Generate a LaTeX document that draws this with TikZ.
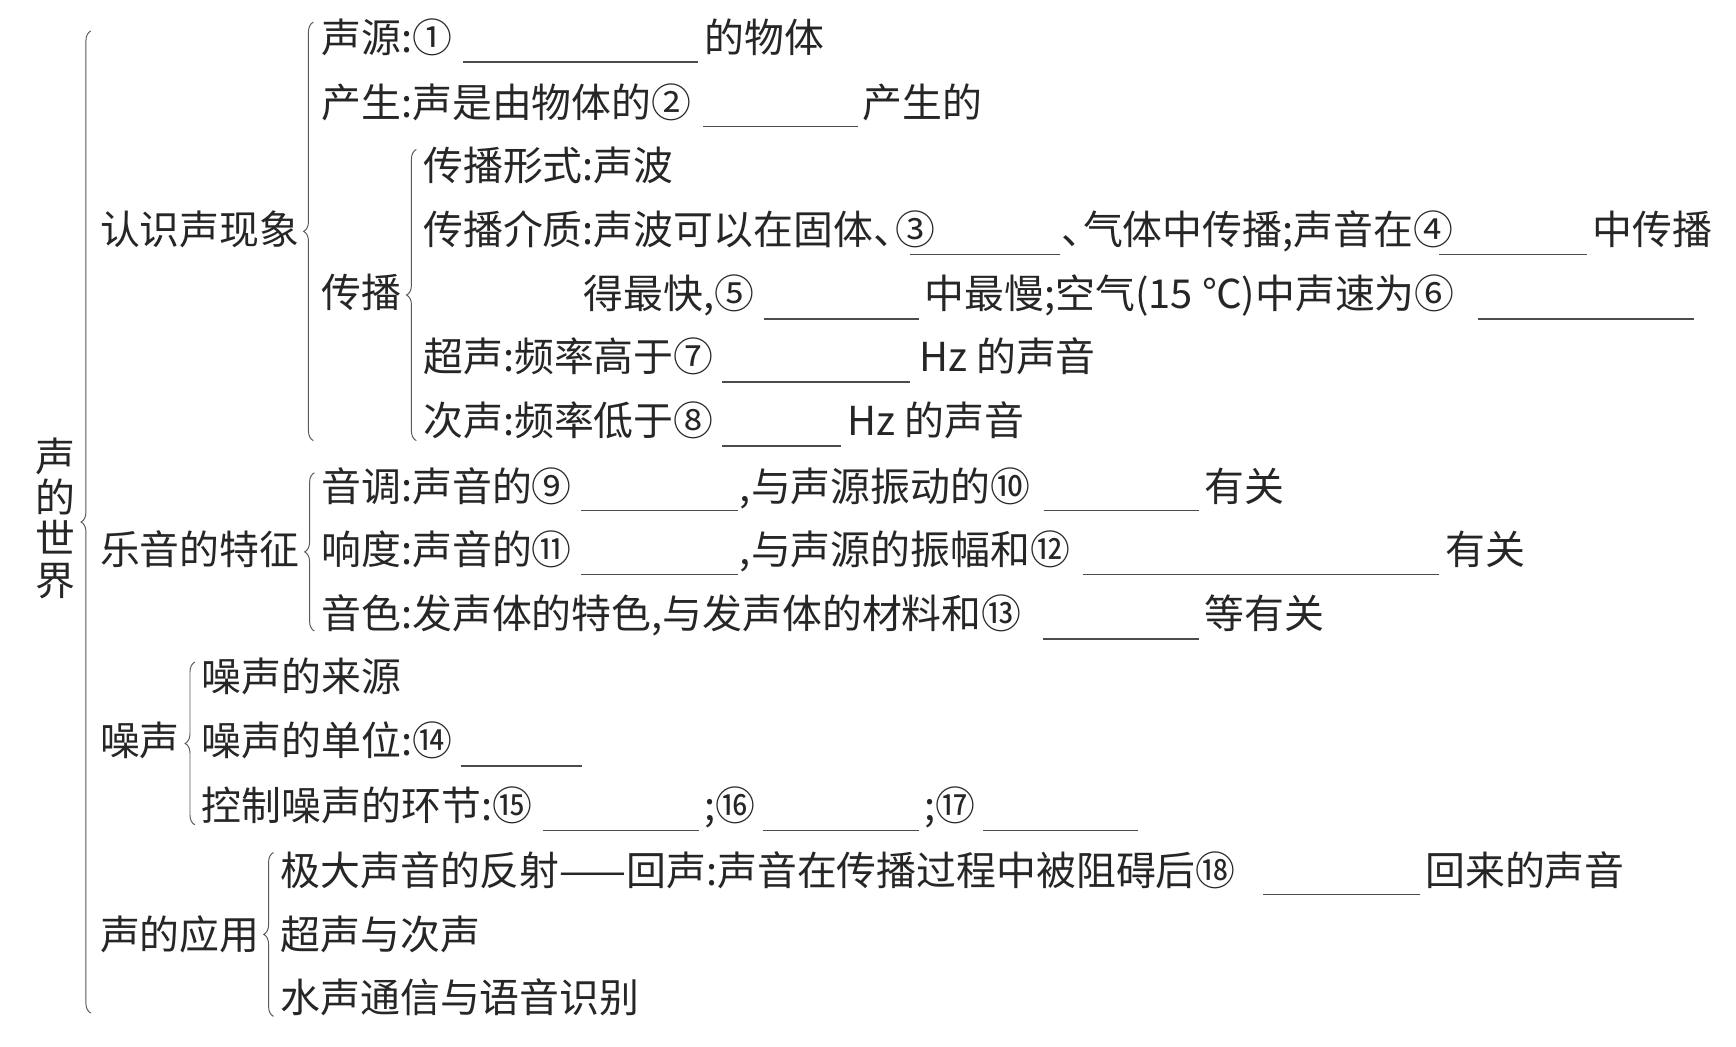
\documentclass[tikz,border=0pt]{standalone}
\usepackage{fontspec}
\newfontfamily\cjk{Noto Sans CJK SC}
\usetikzlibrary{decorations.pathreplacing}
\newcommand{\dun}{、\hspace{-0.45em}}

\begin{document}
\begin{tikzpicture}[x=0.02cm, y=-0.02cm,
	txt/.style={anchor=west, inner sep=0pt, text=black!85, font=\cjk\fontsize{20.5}{24}\selectfont, text height=17.5pt, text depth=3pt},
	vert/.style={inner sep=0pt, align=center, text=black!85, font=\cjk\fontsize{20.5}{21.2}\selectfont},
	blank/.style={draw=black!70, line width=0.7pt},
	grp/.style={draw=black!65, line width=0.5pt, decorate, decoration={brace, amplitude=5pt}}]
		\useasboundingbox[fill=white] (0,0) rectangle (1568,945);

		\node[vert] at (50,468) (world) {声\\的\\世\\界};
		\draw[grp] (82,915) -- (82,28);

		\node[txt] at (90,208) (know) {认识声现象};
		\draw[grp] (283,398) -- (283,20);
		\node[txt] at (290,35) (src) {声源:①};
		\draw[blank] (418,56) -- (630,56);
		\node[txt] at (636,35) (src2) {的物体};
		\node[txt] at (290,93) (gen) {产生:声是由物体的②};
		\draw[blank] (635,114) -- (775,114);
		\node[txt] at (779,93) (gen2) {产生的};

		\node[txt] at (290,265) (spread) {传播};
		\draw[grp] (376,398) -- (376,135);
		\node[txt] at (382,150) (form) {传播形式:声波};
		\node[txt] at (382,208) (med) {传播介质:声波可以在固体\dun ③};
		\draw[blank] (822,230) -- (957,230);
		\node[txt] at (958,208) (med2) {\dun 气体中传播;声音在④};
		\draw[blank] (1300,230) -- (1433,230);
		\node[txt] at (1438,208) (med3) {中传播};
		\node[txt] at (527,266) (fast) {得最快,⑤};
		\draw[blank] (690,288) -- (830,288);
		\node[txt] at (835,266) (slow) {中最慢;空气(15 ℃)中声速为⑥};
		\draw[blank] (1335,288) -- (1530,288);
		\node[txt] at (382,323) (ultra) {超声:频率高于⑦};
		\draw[blank] (652,345) -- (822,345);
		\node[txt] at (830,323) (ultra2) {Hz 的声音};
		\node[txt] at (382,381) (infra) {次声:频率低于⑧};
		\draw[blank] (652,403) -- (760,403);
		\node[txt] at (765,381) (infra2) {Hz 的声音};

		\node[txt] at (90,497) (music) {乐音的特征};
		\draw[grp] (284,570) -- (284,427);
		\node[txt] at (290,440) (pitch) {音调:声音的⑨};
		\draw[blank] (525,461) -- (667,461);
		\node[txt] at (668,440) (pitch2) {,与声源振动的⑩};
		\draw[blank] (943,461) -- (1083,461);
		\node[txt] at (1088,440) (pitch3) {有关};
		\node[txt] at (290,497) (loud) {响度:声音的⑪};
		\draw[blank] (525,519) -- (667,519);
		\node[txt] at (668,497) (loud2) {,与声源的振幅和⑫};
		\draw[blank] (978,519) -- (1300,519);
		\node[txt] at (1305,497) (loud3) {有关};
		\node[txt] at (290,555) (timbre) {音色:发声体的特色,与发声体的材料和⑬};
		\draw[blank] (942,577) -- (1083,577);
		\node[txt] at (1088,555) (timbre2) {等有关};

		\node[txt] at (90,670) (noise) {噪声};
		\draw[grp] (176,745) -- (176,598);
		\node[txt] at (182,612) (nsrc) {噪声的来源};
		\node[txt] at (182,670) (nunit) {噪声的单位:⑭};
		\draw[blank] (416,692) -- (526,692);
		\node[txt] at (182,728) (nctrl) {控制噪声的环节:⑮};
		\draw[blank] (490,750) -- (631,750);
		\node[txt] at (636,728) (nctrl2) {;⑯};
		\draw[blank] (689,750) -- (830,750);
		\node[txt] at (835,728) (nctrl3) {;⑰};
		\draw[blank] (888,750) -- (1028,750);

		\node[txt] at (90,845) (use) {声的应用};
		\draw[grp] (247,918) -- (247,770);
		\node[txt] at (253,787) (echo) {极大声音的反射——回声:声音在传播过程中被阻碍后⑱};
		\draw[blank] (1141,808) -- (1283,808);
		\node[txt] at (1287,787) (echo2) {回来的声音};
		\node[txt] at (253,845) (uinfra) {超声与次声};
		\node[txt] at (253,902) (water) {水声通信与语音识别};
	\end{tikzpicture}
\end{document}
